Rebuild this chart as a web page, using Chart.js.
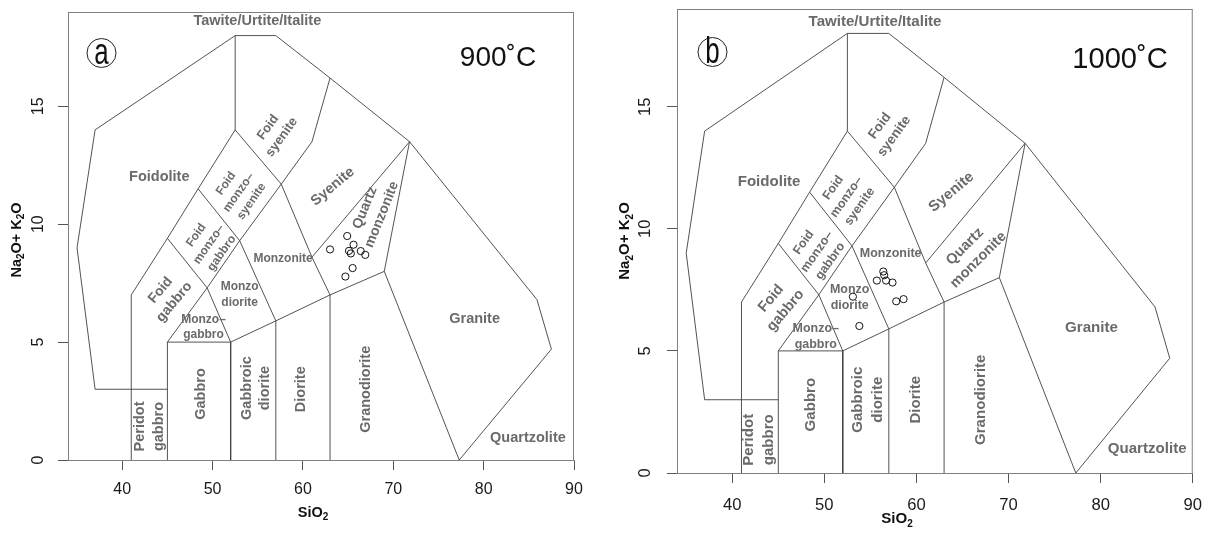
<!DOCTYPE html>
<html>
<head>
<meta charset="utf-8">
<script src="https://cdn.jsdelivr.net/npm/chart.js@4.4.1/dist/chart.umd.min.js"></script>
<style>
  body { margin: 0; background: #fff; width: 1214px; height: 534px; overflow: hidden; position: relative; }
  .panel { position: absolute; top: 0; height: 534px; }
</style>
</head>
<body>
<div class="panel" style="left:0;width:600px"><canvas id="chartA" width="600" height="534"></canvas></div>
<div class="panel" style="left:600px;width:614px"><canvas id="chartB" width="614" height="534"></canvas></div>
<script>
const FONT = '"Liberation Sans", Arial, Helvetica, sans-serif';

// axis ticks
const xTicks = [40, 50, 60, 70, 80, 90];
const yTicks = [0, 5, 10, 15];

// TAS plutonic field boundaries (SiO2, Na2O+K2O)
const boundaryLines = [
    [[41, 0], [41, 7], [45, 9.4], [48.4, 11.5], [52.5, 14], [52.5, 18]],
    [[45, 3], [37, 3], [35, 9], [37, 14], [52.5, 18], [57, 18], [63, 16.2], [71.8, 13.5], [85.9, 6.8], [87.5, 4.7], [77.3, 0]],
    [[45, 0], [45, 5], [52, 5], [52, 0]],
    [[52, 5], [57, 5.9], [63, 7], [69, 8], [77.3, 0]],
    [[57, 0], [57, 5.9]],
    [[63, 0], [63, 7]],
    [[45, 5], [49.4, 7.3], [52, 5]],
    [[45, 9.4], [49.4, 7.3], [53, 9.3], [57, 5.9]],
    [[48.4, 11.5], [53, 9.3], [57.6, 11.7], [61, 8.6], [63, 7]],
    [[52.5, 14], [57.6, 11.7], [61, 13.5], [63, 16.2]],
    [[61, 8.6], [71.8, 13.5], [69, 8]]
];

// samples, 900 C
const sio2_900 = [63.0, 64.9, 65.6, 65.1, 65.3, 66.4, 66.9, 65.5, 64.7];
const alk_900  = [8.93, 9.5, 9.13, 8.87, 8.76, 8.86, 8.7, 8.14, 7.78];
// samples, 1000 C
const sio2_1000 = [53.1, 53.8, 56.4, 56.5, 55.7, 56.7, 57.4, 57.8, 58.6];
const alk_1000  = [7.22, 6.02, 8.25, 8.1, 7.88, 7.88, 7.8, 7.03, 7.12];

// field names
const fieldNames = [
    ['Tawite/Urtite/Italite'], ['Foidolite'], ['Foid', 'syenite'], ['Foid', 'monzo–', 'syenite'],
    ['Foid', 'monzo–', 'gabbro'], ['Foid', 'gabbro'], ['Monzo–', 'gabbro'], ['Monzo', 'diorite'],
    ['Monzonite'], ['Syenite'], ['Quartz', 'monzonite'], ['Granite'], ['Quartzolite'],
    ['Granodiorite'], ['Diorite'], ['Gabbroic', 'diorite'], ['Gabbro'], ['Peridot', 'gabbro']
];
const nameSize = [14.5, 14.5, 13, 12, 12, 14, 12, 12, 12, 14.5, 14, 14.5, 14.5, 14.5, 14.5, 14.5, 14.5, 14.5];
const nameRot  = [0, 0, -54, -55, -55, -50, 0, 0, 0, -40, -68, 0, 0, -90, -90, -90, -90, -90];
// label anchor [x, y, rotation override]
const namePosA = [[54.95, 18.6], [44.1, 12.0], [56.9, 13.9], [52.9, 11.35], [49.6, 9.15], [45.0, 6.95],
    [49.0, 5.63], [53.0, 7.0], [57.8, 8.53], [63.3, 11.6], [67.8, 10.55], [79.0, 5.97], [84.9, 0.94],
    [67.0, 3.0], [59.8, 3.0], [54.8, 3.05], [48.75, 2.8], [43.0, 1.42]];
const namePosB = [[55.5, 18.47], [44.0, 11.93], [56.8, 14.0], [52.4, 11.3], [49.2, 9.06], [45.0, 6.9],
    [49.07, 5.59], [52.75, 7.18], [57.2, 9.0], [63.8, 11.5], [66.0, 9.0, -45], [79.0, 5.93], [85.05, 1.0],
    [67.04, 3.0], [59.9, 3.0], [54.7, 3.0], [48.5, 2.8], [42.9, 1.36]];

function drawSubText(ctx, parts, size) {
    const big = `bold ${size}px ${FONT}`;
    const small = `bold ${Math.round(size * 0.68)}px ${FONT}`;
    let w = 0;
    parts.forEach(p => { ctx.font = p.sub ? small : big; w += ctx.measureText(p.t).width; });
    let x = -w / 2;
    ctx.textAlign = 'left';
    ctx.textBaseline = 'middle';
    parts.forEach(p => {
        ctx.font = p.sub ? small : big;
        ctx.fillText(p.t, x, p.sub ? size * 0.32 : 0);
        x += ctx.measureText(p.t).width;
    });
}

function decorPlugin(cfg) {
    return {
        id: 'decor',
        afterDraw(chart) {
            const ctx = chart.ctx;
            const { left, top, right, bottom } = chart.chartArea;
            const xs = chart.scales.x, ys = chart.scales.y;
            ctx.save();
            // frame
            ctx.strokeStyle = '#808080';
            ctx.lineWidth = 1;
            ctx.strokeRect(left + 0.5, top + 0.5, right - left - 1, bottom - top);

            // field names
            ctx.fillStyle = '#6a6a6a';
            fieldNames.forEach((lines, i) => {
                const pos = cfg.names[i];
                const size = nameSize[i] * cfg.k;
                const rot = pos[2] !== undefined ? pos[2] : nameRot[i];
                const lh = size * 1.3;
                ctx.save();
                ctx.translate(xs.getPixelForValue(pos[0]), ys.getPixelForValue(pos[1]));
                ctx.rotate(rot * Math.PI / 180);
                ctx.font = `bold ${size}px ${FONT}`;
                ctx.textAlign = 'center';
                ctx.textBaseline = 'middle';
                lines.forEach((s, j) => ctx.fillText(s, 0, (j - (lines.length - 1) / 2) * lh));
                ctx.restore();
            });

            // y tick labels, parallel to the axis
            ctx.fillStyle = '#1a1a1a';
            ctx.font = `${16 * cfg.k}px ${FONT}`;
            ctx.textAlign = 'center';
            ctx.textBaseline = 'middle';
            ys.ticks.forEach(t => {
                ctx.save();
                ctx.translate(cfg.yLabelX, ys.getPixelForValue(t.value));
                ctx.rotate(-Math.PI / 2);
                ctx.fillText(String(t.value), 0, 0);
                ctx.restore();
            });

            // axis titles
            ctx.fillStyle = '#111';
            ctx.save();
            ctx.translate(cfg.xTitle[0], cfg.xTitle[1]);
            drawSubText(ctx, [{ t: 'SiO' }, { t: '2', sub: true }], 14.5 * cfg.k);
            ctx.restore();
            ctx.save();
            ctx.translate(cfg.yTitle[0], cfg.yTitle[1]);
            ctx.rotate(-Math.PI / 2);
            drawSubText(ctx, [{ t: 'Na' }, { t: '2', sub: true }, { t: 'O+ K' }, { t: '2', sub: true }, { t: 'O' }], 14.5 * cfg.k);
            ctx.restore();

            // panel badge
            ctx.strokeStyle = '#222';
            ctx.lineWidth = 1;
            ctx.beginPath();
            ctx.arc(cfg.badge[0], cfg.badge[1], 14.5, 0, Math.PI * 2);
            ctx.stroke();
            ctx.save();
            ctx.translate(cfg.badge[0], cfg.badge[1] + 1);
            ctx.scale(0.72, 1);
            ctx.font = `36px ${FONT}`;
            ctx.textAlign = 'center';
            ctx.textBaseline = 'middle';
            ctx.fillText(cfg.letter, 0, 0);
            ctx.restore();

            // temperature
            ctx.font = `${28 * cfg.k}px ${FONT}`;
            ctx.textAlign = 'center';
            ctx.textBaseline = 'middle';
            ctx.fillText(cfg.temp, cfg.tempPos[0], cfg.tempPos[1]);
            ctx.restore();
        }
    };
}

function makeChart(id, cfg) {
    const datasets = boundaryLines.map(line => ({
        data: line.map(p => ({ x: p[0], y: p[1] })),
        showLine: true,
        borderColor: '#404040',
        borderWidth: 0.9,
        pointRadius: 0,
        tension: 0,
        fill: false
    }));
    datasets.push({
        data: cfg.si.map((v, i) => ({ x: v, y: cfg.alk[i] })),
        showLine: false,
        pointRadius: 3.6,
        pointBorderWidth: 1,
        borderColor: '#111',
        backgroundColor: 'rgba(0,0,0,0)'
    });

    const grid = { drawOnChartArea: false, drawTicks: true, tickLength: 10, color: '#666', tickColor: '#555' };

    return new Chart(document.getElementById(id), {
        type: 'scatter',
        data: { datasets },
        options: {
            responsive: false,
            animation: false,
            events: [],
            layout: { padding: { top: cfg.top, right: cfg.right, left: 0, bottom: 0 } },
            plugins: { legend: { display: false }, tooltip: { enabled: false } },
            scales: {
                x: {
                    type: 'linear', min: 34, max: 90,
                    afterBuildTicks: s => { s.ticks = xTicks.map(v => ({ value: v })); },
                    afterFit: s => { s.height = cfg.xh; },
                    grid,
                    border: { display: true, color: '#808080' },
                    ticks: { font: { size: 16 * cfg.k, family: FONT }, color: '#1a1a1a', padding: cfg.xPad, maxRotation: 0, autoSkip: false }
                },
                y: {
                    type: 'linear', min: 0, max: 19,
                    afterBuildTicks: s => { s.ticks = yTicks.map(v => ({ value: v })); },
                    afterFit: s => { s.width = cfg.yw; },
                    grid,
                    border: { display: true, color: '#808080' },
                    ticks: { display: false }
                }
            }
        },
        plugins: [decorPlugin(cfg)]
    });
}

makeChart('chartA', {
    si: sio2_900, alk: alk_900, names: namePosA, k: 1,
    top: 12, right: 26, xh: 74, yw: 68, xPad: 10,
    yLabelX: 39, xTitle: [313, 513], yTitle: [17, 240],
    badge: [101.5, 53], letter: 'a', temp: '900˚C', tempPos: [498, 58]
});

makeChart('chartB', {
    si: sio2_1000, alk: alk_1000, names: namePosB, k: 1.04,
    top: 9, right: 15, xh: 61, yw: 77, xPad: 12,
    yLabelX: 45.5, xTitle: [297, 519], yTitle: [25, 241],
    badge: [112.5, 52], letter: 'b', temp: '1000˚C', tempPos: [520, 60]
});
</script>
</body>
</html>
